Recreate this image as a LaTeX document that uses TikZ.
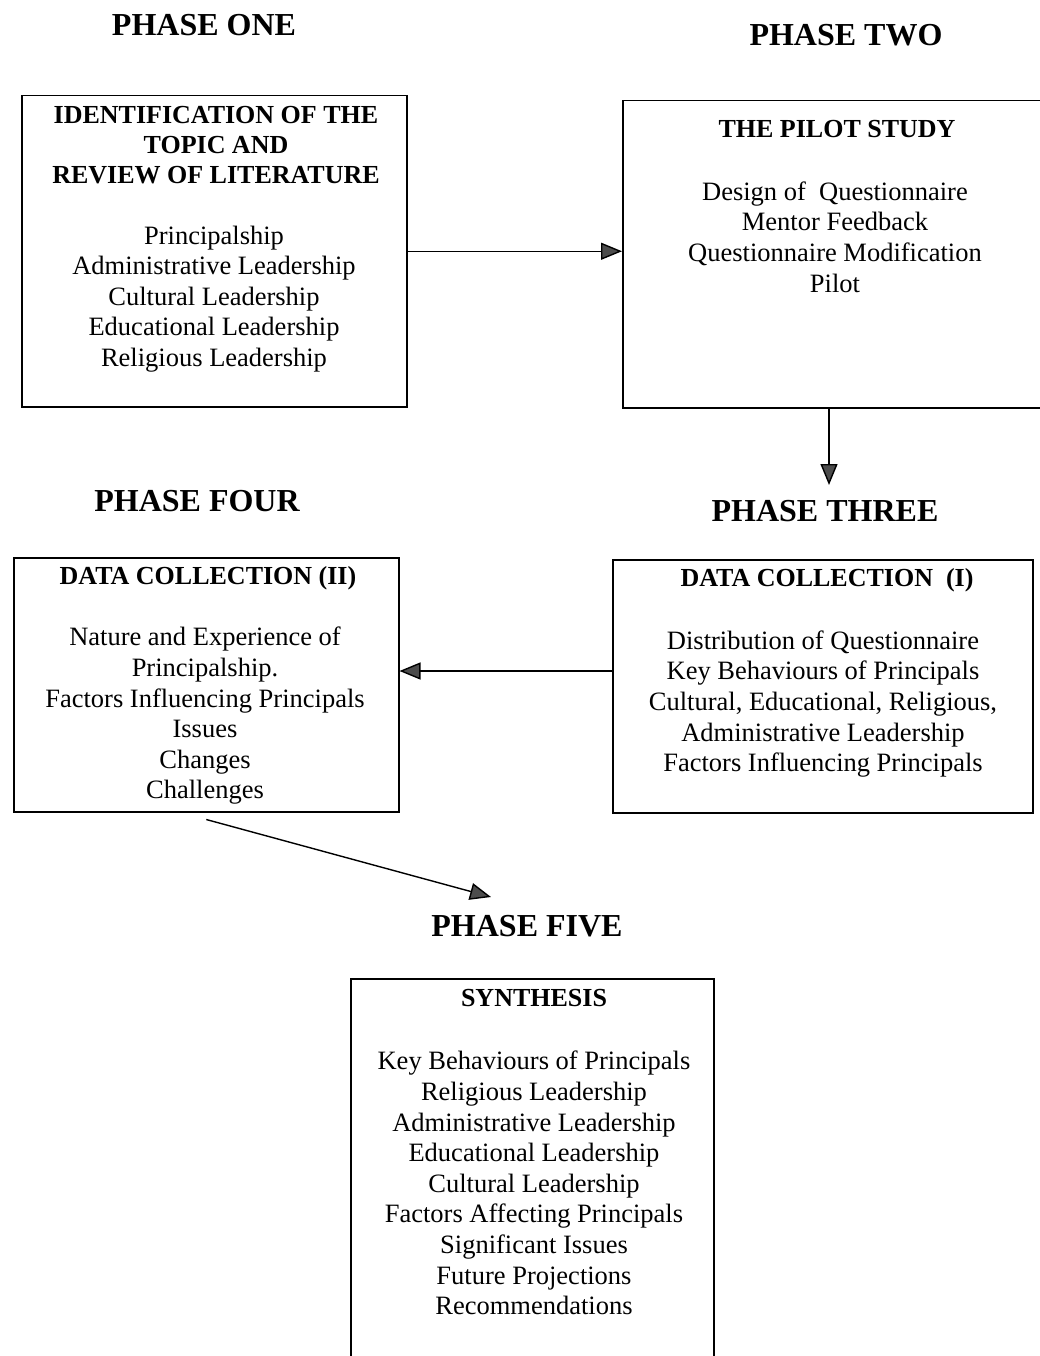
\documentclass[tikz,border=0pt]{standalone}
\usepackage{fontspec}
\setmainfont{Liberation Serif}
\usetikzlibrary{arrows.meta}
\begin{document}
\begin{tikzpicture}[x=1pt,y=-1pt,
  phase/.style={font=\fontsize{32}{36}\selectfont\bfseries, inner sep=0pt},
  head/.style={font=\fontsize{26}{30}\selectfont\bfseries, align=center, inner sep=0pt},
  body/.style={font=\fontsize{26.5}{30.6}\selectfont, align=center, inner sep=0pt},
  frame/.style={draw, line width=1.5pt, inner sep=0pt, anchor=north west},
  link/.style={line width=1.4pt, -{Triangle[length=21pt,width=17pt,fill=black!70]}},
]
% page area
\useasboundingbox (0,0) rectangle (1040,1356);
\fill[white] (0,0) rectangle (1040,1356);
\clip (0,0) rectangle (1040,1356);

% phase titles
\node[phase] (p1) at (204,25)  {PHASE ONE};
\node[phase] (p2) at (846,35)  {PHASE TWO};
\node[phase] (p4) at (197,501) {PHASE FOUR};
\node[phase] (p3) at (825,511) {PHASE THREE};
\node[phase] (p5) at (527,926) {PHASE FIVE};

% frames
\node[frame, minimum width=385pt, minimum height=311pt] (b1) at (21,95)  {};
\node[frame, minimum width=430pt, minimum height=307pt] (b2) at (622,100) {};
\node[frame, minimum width=385pt, minimum height=254pt] (b3) at (13,557)  {};
\node[frame, minimum width=420pt, minimum height=253pt] (b4) at (612,559) {};
\node[frame, minimum width=363pt, minimum height=420pt] (b5) at (350,978) {};

% phase one
\node[head] (b1h) at (216,145) {IDENTIFICATION OF THE\\TOPIC AND\\REVIEW OF LITERATURE};
\node[body] (b1t) at (214,299) {Principalship\\Administrative Leadership\\Cultural Leadership\\Educational Leadership\\Religious Leadership};

% phase two
\node[head] (b2h) at (837,129) {THE PILOT STUDY};
\node[body] (b2t) at (835,237) {Design of\ \ Questionnaire\\Mentor Feedback\\Questionnaire Modification\\Pilot};

% phase four
\node[head] (b3h) at (208,578) {DATA COLLECTION (II)};
\node[body] (b3t) at (205,716) {Nature and Experience of\\Principalship.\\Factors Influencing Principals\\Issues\\Changes\\Challenges};

% phase three
\node[head] (b4h) at (827,580) {DATA COLLECTION\ \ (I)};
\node[body] (b4t) at (823,704) {Distribution of Questionnaire\\Key Behaviours of Principals\\Cultural, Educational, Religious,\\Administrative Leadership\\Factors Influencing Principals};

% phase five
\node[head] (b5h) at (534,998) {SYNTHESIS};
\node[body] (b5t) at (534,1183) {Key Behaviours of Principals\\Religious Leadership\\Administrative Leadership\\Educational Leadership\\Cultural Leadership\\Factors Affecting Principals\\Significant Issues\\Future Projections\\Recommendations};

% connectors
\coordinate (t3) at (829,485);
\coordinate (m43) at (500,671);
\coordinate (t5) at (491,897);
\draw[link] (b1.east) -- (b1.east -| b2.west);
\draw[link] (b2.south -| t3) -- (t3);
\draw[link] (b4.west |- m43) -- (b3.east |- m43);
\draw[link] ([yshift=-7pt]b3.south) -- (t5);
\end{tikzpicture}
\end{document}
